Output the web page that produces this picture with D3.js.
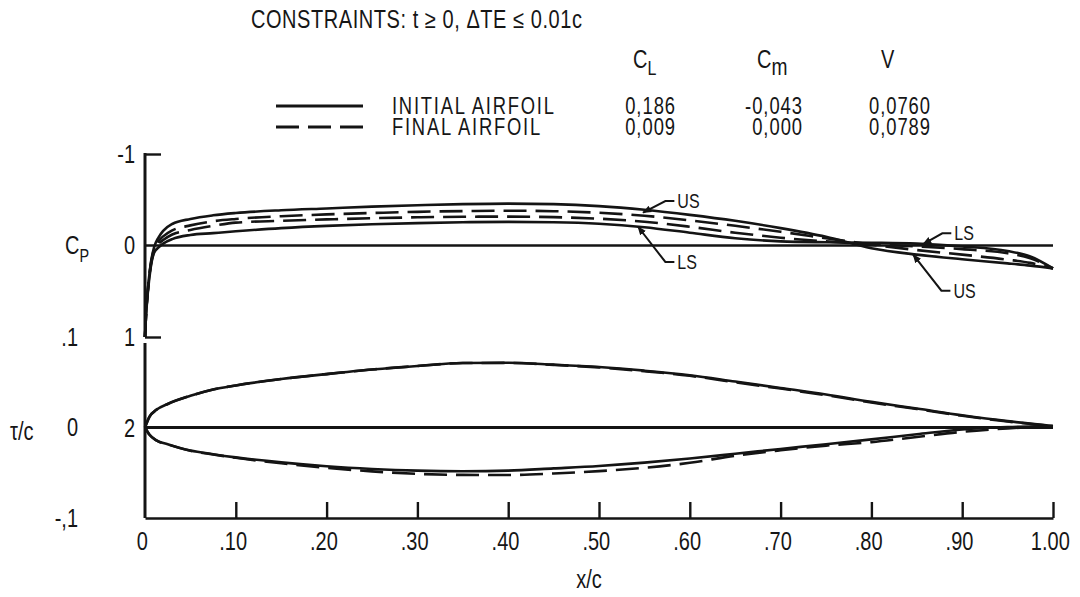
<!DOCTYPE html>
<html><head><meta charset="utf-8">
<script src="https://cdn.jsdelivr.net/npm/d3@7"></script>
<style>
body{margin:0;background:#fff}
svg text{font-family:"Liberation Sans",Arial,sans-serif;fill:#161616}
</style></head><body><svg id="chart" width="1080" height="597"></svg>
<script>
// ---- pressure distributions (x/c vs Cp) ----
const cpX        = [0, .001, .003, .006, .01, .015, .02, .03, .05, .075, .1, .15, .2, .25, .3, .35, .4, .45, .5, .55, .6, .65, .7, .75, .8, .85, .9, .95, .975, 1];
const cpInitUS   = [1, .78, .50, .22, .02, -.09, -.16, -.235, -.29, -.33, -.355, -.385, -.405, -.425, -.44, -.452, -.458, -.452, -.43, -.39, -.335, -.27, -.19, -.095, .03, .10, .15, .195, .22, .25];
const cpFinalUS  = [1, .78, .50, .23, .04, -.05, -.10, -.165, -.22, -.265, -.29, -.32, -.34, -.355, -.368, -.376, -.38, -.375, -.358, -.325, -.275, -.215, -.15, -.08, -.01, .05, .10, .155, .19, .25];
const cpFinalLS  = [1, .78, .51, .24, .06, -.02, -.06, -.12, -.17, -.215, -.25, -.27, -.285, -.298, -.308, -.314, -.316, -.31, -.293, -.26, -.205, -.14, -.085, -.045, -.015, .01, .04, .085, .14, .25];
const cpInitLS   = [1, .79, .53, .26, .08, .02, -.02, -.07, -.115, -.135, -.155, -.19, -.215, -.232, -.245, -.254, -.258, -.254, -.238, -.2, -.14, -.08, -.045, -.035, -.03, -.02, .01, .06, .12, .25];

// ---- airfoil coordinates (x/c vs y/c) ----
const foilX        = [0, .005, .0125, .025, .05, .075, .1, .15, .2, .25, .3, .35, .4, .45, .5, .55, .6, .65, .7, .75, .8, .85, .9, .95, 1];
const initUpper    = [0, .012, .0195, .026, .035, .042, .0465, .0535, .059, .064, .068, .0712, .0716, .0695, .0668, .0628, .0578, .0508, .0437, .0365, .0283, .021, .0135, .007, .0017];
const finalUpper   = [0, .012, .0195, .026, .035, .042, .0465, .0535, .059, .064, .068, .0712, .0714, .0692, .0664, .0622, .0571, .0500, .0430, .0357, .0276, .0204, .0130, .0066, .0017];
const initLower    = [0, -.008, -.0142, -.0185, -.0255, -.0295, -.033, -.0385, -.0428, -.0458, -.0477, -.0484, -.0477, -.0452, -.0425, -.0388, -.0342, -.029, -.0237, -.0185, -.0131, -.0075, -.0022, .0005, .0017];
const finalLower   = [0, -.008, -.0142, -.0186, -.0257, -.0298, -.0335, -.0395, -.0445, -.0485, -.0512, -.0524, -.0525, -.0508, -.0482, -.0445, -.039, -.0312, -.0252, -.02, -.0162, -.0105, -.0048, -.001, .0017];

// ---- axes ----
const xTicks      = [0, .1, .2, .3, .4, .5, .6, .7, .8, .9, 1];
const xTickLabels = ["0", ".10", ".20", ".30", ".40", ".50", ".60", ".70", ".80", ".90", "1.00"];
const cpTicks      = [-1, 0, 1, 2];
const cpTickLabels = ["-1", "0", "1", "2"];
const yTicks       = [.1, 0, -.1];
const yTickLabels  = [".1", "0", "-,1"];

// ---- summary table ----
const tableHeads  = ["C", "C", "V"];
const tableSubs   = ["L", "m", ""];
const rowNames    = ["INITIAL AIRFOIL", "FINAL AIRFOIL"];
const clValues    = ["0,186", "0,009"];
const cmValues    = ["-0,043", "0,000"];
const vValues     = ["0,0760", "0,0789"];

// ---- surface labels: arrow tip and label anchor in data units ----
const notes = [
  {text: "US", tipX: .5485, tipCp: -.36,  labX: .583, labCp: -.486},
  {text: "LS", tipX: .543,  tipCp: -.205, labX: .583, labCp: .18},
  {text: "LS", tipX: .857,  tipCp: -.016, labX: .888, labCp: -.133},
  {text: "US", tipX: .846,  tipCp: .10,   labX: .887, labCp: .494}
];

const svg = d3.select("#chart");
const x   = d3.scaleLinear([0, 1], [145, 1053]);
const yCp = d3.scaleLinear([-1, 1], [154, 337]);
const yT  = d3.scaleLinear([-0.1, 0.1], [518, 337]);
const axisGap = 6;
const ink = "#141414";
const FS = 25;     // lettering size
const SX = 0.8;    // narrow lettering

// narrow text helper
function label(px, py, str, size, anchor, spacing) {
  return svg.append("text").attr("transform", `translate(${px},${py}) scale(${SX},1)`)
    .attr("font-size", size || FS).attr("text-anchor", anchor || "start")
    .attr("letter-spacing", spacing || 0).text(str);
}

// bottom axis
const bottom = svg.append("g").attr("transform", `translate(0,${yT(-0.1)})`)
  .call(d3.axisBottom(x).tickValues(xTicks).tickFormat((d, i) => xTickLabels[i])
        .tickSize(-16).tickSizeOuter(0).tickPadding(14));
bottom.select(".domain").attr("stroke", ink).attr("stroke-width", 2.6);
bottom.selectAll(".tick line").attr("stroke", ink).attr("stroke-width", 2.4)
  .filter(d => d === 0).remove();
bottom.selectAll(".tick text").attr("font-size", FS).attr("fill", ink).attr("dx", -4)
  .attr("transform", `scale(${SX},1)`).attr("font-family", null);

// Cp axis (labels -1..2, line from -1 to 1)
const cpAx = svg.append("g").attr("transform", `translate(${x(0)},0)`)
  .call(d3.axisLeft(d3.scaleLinear([-1, 2], [yCp(-1), yCp(2)])).tickValues(cpTicks)
        .tickFormat((d, i) => cpTickLabels[i]).tickSize(-16).tickPadding(10));
cpAx.select(".domain").remove();
cpAx.selectAll(".tick line").attr("stroke", ink).attr("stroke-width", 2.4)
  .filter(d => d === 0 || d === 2).remove();
cpAx.selectAll(".tick text").attr("font-size", FS).attr("fill", ink).attr("font-family", null)
  .attr("x", -10 / SX).attr("transform", `scale(${SX},1)`);
svg.append("line").attr("x1", x(0)).attr("x2", x(0)).attr("y1", yCp(-1) - 1).attr("y2", yCp(1))
  .attr("stroke", ink).attr("stroke-width", 3);

// y/c axis
const tAx = svg.append("g").attr("transform", `translate(${x(0)},0)`)
  .call(d3.axisLeft(yT).tickValues(yTicks).tickFormat((d, i) => yTickLabels[i]).tickSize(0).tickPadding(67));
tAx.select(".domain").remove();
tAx.selectAll(".tick text").attr("font-size", FS).attr("fill", ink).attr("font-family", null)
  .attr("x", -67 / SX).attr("transform", `scale(${SX},1)`);
svg.append("line").attr("x1", x(0)).attr("x2", x(0)).attr("y1", yCp(1) + axisGap).attr("y2", yT(-0.1))
  .attr("stroke", ink).attr("stroke-width", 3);

// reference lines
svg.append("line").attr("x1", x(0)).attr("x2", x(1)).attr("y1", yCp(0)).attr("y2", yCp(0))
  .attr("stroke", ink).attr("stroke-width", 2.6);
svg.append("line").attr("x1", x(0)).attr("x2", x(1)).attr("y1", yT(0)).attr("y2", yT(0))
  .attr("stroke", ink).attr("stroke-width", 2.8);

// axis titles
const cpT = label(65, 254, "C");
cpT.append("tspan").attr("font-size", 18).attr("dy", 8).text("P");
label(10, 440, "τ/c");
label(589, 588, "x/c", FS, "middle");

// curves
const dash = "23,9";
function drawSeries(xs, ys, yScale, dashed) {
  const line = d3.line().x((d, i) => x(xs[i])).y(d => yScale(d)).curve(d3.curveMonotoneX);
  svg.append("path").datum(ys).attr("d", line).attr("fill", "none").attr("stroke", ink)
    .attr("stroke-width", 2.6).attr("stroke-dasharray", dashed ? dash : null).attr("stroke-linejoin", "round");
}
drawSeries(cpX, cpInitUS, yCp, false);
drawSeries(cpX, cpInitLS, yCp, false);
drawSeries(cpX, cpFinalUS, yCp, true);
drawSeries(cpX, cpFinalLS, yCp, true);
drawSeries(foilX, initUpper, yT, false);
drawSeries(foilX, initLower, yT, false);
drawSeries(foilX, finalUpper, yT, true);
drawSeries(foilX, finalLower, yT, true);

// surface labels with leaders
svg.append("defs").append("marker").attr("id", "tip").attr("viewBox", "0 0 10 10")
  .attr("refX", 9).attr("refY", 5).attr("markerWidth", 9).attr("markerHeight", 9)
  .attr("markerUnits", "userSpaceOnUse").attr("orient", "auto")
  .append("path").attr("d", "M0,1 L10,5 L0,9 Z").attr("fill", ink);
notes.forEach(n => {
  const lx = x(n.labX), ly = yCp(n.labCp);
  svg.append("path").attr("d", `M${lx},${ly} H${lx - 9} L${x(n.tipX)},${yCp(n.tipCp)}`)
    .attr("fill", "none").attr("stroke", ink).attr("stroke-width", 2).attr("marker-end", "url(#tip)");
  label(lx + 3, ly + 7, n.text, 20);
});

// header
label(251, 28, "CONSTRAINTS: t ≥ 0, ΔTE ≤ 0.01c", FS, "start", 0.7);

// table column heads
const headX = [633, 757, 881];
tableHeads.forEach((h, i) => {
  const t = label(headX[i], 68, h);
  if (tableSubs[i]) t.append("tspan").attr("dy", 7).attr("font-size", i === 1 ? 24 : 20).text(tableSubs[i]);
});

// legend rows
const rowY = [106, 127];
const colRight = [676, 803, 931];
const rowFS = 23;
rowNames.forEach((name, i) => {
  svg.append("line").attr("x1", 276).attr("x2", 363).attr("y1", rowY[i]).attr("y2", rowY[i])
    .attr("stroke", ink).attr("stroke-width", 2.8).attr("stroke-dasharray", i ? "23,9" : null);
  label(392, rowY[i] + 8, name, rowFS, "start", 2.2);
  [clValues, cmValues, vValues].forEach((vals, j) => {
    label(colRight[j], rowY[i] + 8, vals[i], rowFS, "end", 1.2);
  });
});
</script></body></html>
